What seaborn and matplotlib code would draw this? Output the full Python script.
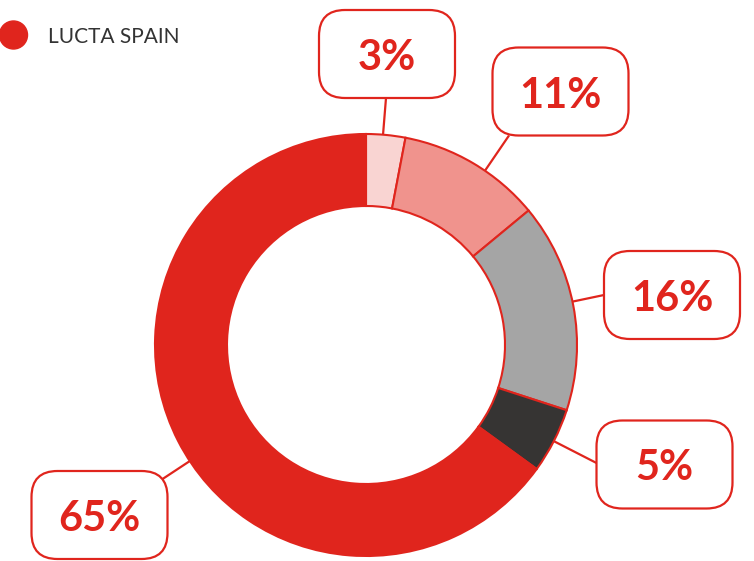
import matplotlib
matplotlib.use("Agg")
import matplotlib.pyplot as plt
from matplotlib.patches import FancyBboxPatch, Circle
import numpy as np
import seaborn as sns

# Share of each segment (percent), drawn clockwise from 12 o'clock
shares = [3, 11, 16, 5, 65]
slice_colors = ["#F9D4D2", "#F0938D", "#A5A5A5", "#363433", "#E0251D"]
series_name = "LUCTA SPAIN"

RED = "#E0251D"
W, H = 754, 561

sns.set_theme(style="white")
plt.rcParams["font.family"] = ["Lato", "DejaVu Sans"]

fig = plt.figure(figsize=(W / 100, H / 100), dpi=100)
ax = fig.add_axes([0, 0, 1, 1])

cx, cy = 366, H - 345
r_out, r_in = 211, 139

ax.pie(
    shares,
    colors=slice_colors,
    startangle=90,
    counterclock=False,
    radius=r_out,
    center=(cx, cy),
    wedgeprops=dict(width=r_out - r_in, edgecolor=RED, linewidth=1.5),
    frame=True,
)
ax.set_xlim(0, W)
ax.set_ylim(0, H)
ax.set_aspect("equal")
ax.axis("off")

# label boxes: centre (x, y from top) and the box point the leader leaves from
box_w, box_h = 136, 88
boxes = [
    ((387, 54), (386, 98)),
    ((560.5, 91.5), (509, 135.5)),
    ((672, 295), (604, 295)),
    ((664.5, 464.5), (596.5, 463)),
    ((99.5, 515), (158, 482)),
]

for val, ((bx, by), (ax_, ay_)) in zip(shares, boxes):
    by_ = H - by
    ay = H - ay_
    # leader runs toward the centre and stops at the outer rim
    d = np.array([cx - ax_, cy - ay])
    dist = np.hypot(*d)
    end = np.array([cx, cy]) - d / dist * r_out
    ax.plot([ax_, end[0]], [ay, end[1]], color=RED, lw=1.6, solid_capstyle="butt", zorder=3)
    patch = FancyBboxPatch(
        (bx - box_w / 2, by_ - box_h / 2), box_w, box_h,
        boxstyle="round,pad=0,rounding_size=26",
        facecolor="white", edgecolor=RED, linewidth=1.6, zorder=4,
    )
    ax.add_patch(patch)
    ax.text(bx, by_ - 4, f"{val}%", color=RED, fontsize=30, fontweight="bold",
            ha="center", va="center", zorder=5)

# legend entry
ax.add_patch(Circle((13.5, H - 35), 14, color=RED, zorder=5))
ax.text(48, H - 37, series_name, color="#333333", fontsize=15,
        ha="left", va="center", zorder=5)

fig.savefig("out.png", dpi=100)
